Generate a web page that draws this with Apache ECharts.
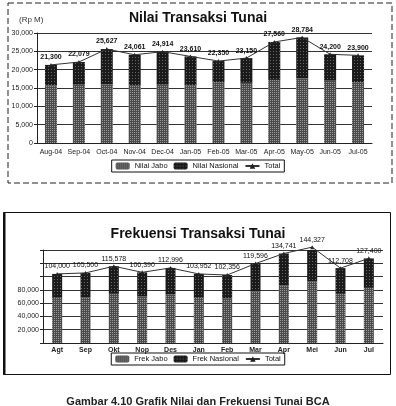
<!DOCTYPE html>
<html>
<head>
<meta charset="utf-8">
<script src="https://cdn.jsdelivr.net/npm/echarts@6/dist/echarts.min.js"></script>
<style>
html,body{margin:0;padding:0;background:#fff;}
#c{width:396px;height:406px;}
</style>
</head>
<body>
<div id="c"></div>
<script>
// ---- Data: Nilai Transaksi Tunai (Rp M) ----
var nilaiCategories = ['Aug-04','Sep-04','Oct-04','Nov-04','Dec-04','Jan-05','Feb-05','Mar-05','Apr-05','May-05','Jun-05','Jul-05'];
var nilaiJabo      = [15700, 15900, 16000, 15800, 15900, 15700, 16600, 16400, 17200, 17600, 17000, 16600];
var nilaiNasional  = [5600, 6179, 9627, 8261, 9014, 7910, 5750, 6750, 10360, 11184, 7200, 7300];
var nilaiTotal     = [21300, 22079, 25627, 24061, 24914, 23610, 22350, 23150, 27560, 28784, 24200, 23900];
var nilaiTicks     = [0, 5000, 10000, 15000, 20000, 25000, 30000];

// ---- Data: Frekuensi Transaksi Tunai ----
var frekCategories = ['Agt','Sep','Okt','Nop','Des','Jan','Feb','Mar','Apr','Mei','Jun','Jul'];
var frekJabo       = [68000, 69000, 74000, 70000, 73000, 68000, 67000, 78000, 87000, 93000, 74000, 83000];
var frekNasional   = [36000, 36500, 41578, 36390, 39996, 35952, 35356, 41596, 47741, 51327, 38708, 44400];
var frekTotal      = [104000, 105500, 115578, 106390, 112996, 103952, 102356, 119596, 134741, 144327, 112708, 127400];
var frekTicks      = [20000, 40000, 60000, 80000];

function fmt(v){ return v.toString().replace(/\B(?=(\d{3})+(?!\d))/g, ','); }

var speckle = {symbol:'rect', symbolSize:1, dashArrayX:[1,1], dashArrayY:[1,1], color:'rgba(255,255,255,0.45)'};
var speckle2 = {symbol:'rect', symbolSize:1, dashArrayX:[1,2], dashArrayY:[1,2], color:'rgba(255,255,255,0.35)'};

var chart = echarts.init(document.getElementById('c'), null, {renderer:'canvas'});
var font = 'Arial, "Liberation Sans", sans-serif';

chart.setOption({
  animation:false,
  backgroundColor:'#fff',
  textStyle:{fontFamily:font},
  title:[
    {text:'Nilai Transaksi Tunai', left:'center', top:6, textStyle:{fontSize:14, fontWeight:'bold', color:'#111', fontFamily:font}},
    {text:'(Rp M)', left:14, top:11, textStyle:{fontSize:8, fontWeight:'normal', color:'#333', fontFamily:font}},
    {text:'Frekuensi Transaksi Tunai', left:'center', top:222, textStyle:{fontSize:14, fontWeight:'bold', color:'#111', fontFamily:font}},
    {text:'Gambar 4.10 Grafik Nilai dan Frekuensi Tunai BCA', left:'center', top:391, textStyle:{fontSize:11, fontWeight:'bold', color:'#222', fontFamily:font}}
  ],
  legend:[
    {data:['Nilai Jabo','Nilai Nasional','Total'], left:'center', top:160, itemWidth:14, itemHeight:7, itemGap:6,
     padding:[2,4], borderColor:'#111', borderWidth:1, textStyle:{fontSize:7.5, color:'#111'}},
    {data:['Frek Jabo','Frek Nasional','Total'], left:'center', top:353, itemWidth:14, itemHeight:7, itemGap:6,
     padding:[2,4], borderColor:'#111', borderWidth:1, textStyle:{fontSize:7.5, color:'#111'}}
  ],
  grid:[
    {left:37, right:24, top:33, bottom:263},
    {left:43, right:13, top:250, bottom:63}
  ],
  xAxis:[
    {type:'category', gridIndex:0, data:nilaiCategories,
     axisLine:{lineStyle:{color:'#222'}}, axisTick:{show:false},
     axisLabel:{fontSize:7, color:'#222', margin:6, interval:0}},
    {type:'category', gridIndex:1, data:frekCategories,
     axisLine:{lineStyle:{color:'#222'}}, axisTick:{show:false},
     axisLabel:{fontSize:7, color:'#222', margin:4, interval:0, fontWeight:'bold'}}
  ],
  yAxis:[
    {type:'value', gridIndex:0, min:nilaiTicks[0], max:nilaiTicks[nilaiTicks.length-1], interval:5000,
     axisLine:{show:true, lineStyle:{color:'#222'}}, axisTick:{show:true, length:3, lineStyle:{color:'#222'}},
     splitLine:{lineStyle:{color:'#333', width:1}},
     axisLabel:{fontSize:7, color:'#222', margin:4, formatter:function(v){return fmt(v);}}},
    {type:'value', gridIndex:1, min:0, max:140000, interval:20000,
     axisLine:{show:true, lineStyle:{color:'#222'}}, axisTick:{show:true, length:3, lineStyle:{color:'#222'}},
     splitLine:{lineStyle:{color:'#333', width:1}},
     axisLabel:{fontSize:7, color:'#222', margin:4, formatter:function(v){return frekTicks.indexOf(v) >= 0 ? fmt(v) : '';}}}
  ],
  series:[
    {name:'Nilai Jabo', type:'bar', stack:'n', xAxisIndex:0, yAxisIndex:0, data:nilaiJabo, barWidth:12,
     itemStyle:{color:'#4a4a4a', decal:speckle}},
    {name:'Nilai Nasional', type:'bar', stack:'n', xAxisIndex:0, yAxisIndex:0, data:nilaiNasional, barWidth:12,
     itemStyle:{color:'#1a1a1a', decal:speckle2}},
    {name:'Total', type:'line', xAxisIndex:0, yAxisIndex:0, data:nilaiTotal, clip:false,
     symbol:'triangle', symbolSize:4, lineStyle:{color:'#333', width:1}, itemStyle:{color:'#222'},
     label:{show:true, position:'top', distance:2, fontSize:7, fontWeight:'bold', color:'#111', formatter:function(p){return fmt(p.value);}}},
    {name:'Frek Jabo', type:'bar', stack:'f', xAxisIndex:1, yAxisIndex:1, data:frekJabo, barWidth:10,
     itemStyle:{color:'#4a4a4a', decal:speckle}},
    {name:'Frek Nasional', type:'bar', stack:'f', xAxisIndex:1, yAxisIndex:1, data:frekNasional, barWidth:10,
     itemStyle:{color:'#1a1a1a', decal:speckle2}},
    {name:'Total', type:'line', xAxisIndex:1, yAxisIndex:1, data:frekTotal, clip:false,
     symbol:'triangle', symbolSize:4, lineStyle:{color:'#333', width:1}, itemStyle:{color:'#222'},
     label:{show:true, position:'top', distance:2, fontSize:7, color:'#111', formatter:function(p){return fmt(p.value);}}}
  ],
  graphic:[
    {type:'rect', shape:{x:8, y:3, width:384, height:180}, style:{fill:null, stroke:'#222', lineWidth:1, lineDash:[6,3]}, silent:true, z:-1},
    {type:'rect', shape:{x:3.5, y:212.5, width:387, height:162}, style:{fill:null, stroke:'#111', lineWidth:1}, silent:true, z:-1},
    {type:'line', shape:{x1:4.5, y1:212, x2:4.5, y2:375}, style:{stroke:'#111', lineWidth:2}, silent:true, z:-1}
  ]
});
</script>
</body>
</html>
